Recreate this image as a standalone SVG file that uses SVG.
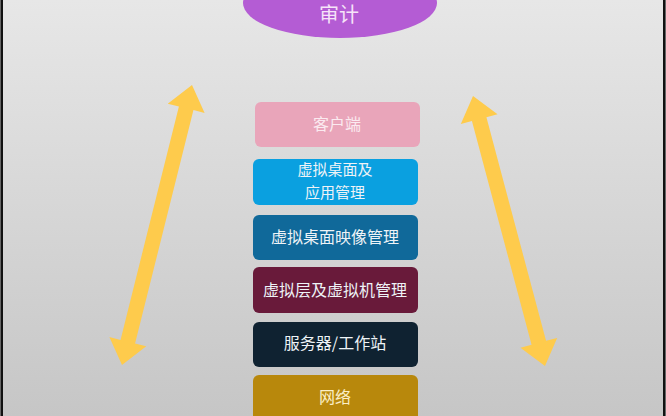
<svg xmlns="http://www.w3.org/2000/svg" width="666" height="416" viewBox="0 0 666 416">
<defs>
<linearGradient id="bg" x1="0" y1="0" x2="0" y2="1">
<stop offset="0" stop-color="#e7e7e7"/>
<stop offset="1" stop-color="#c6c6c6"/>
</linearGradient>
</defs>
<style>
.t{font-family:"Noto Sans CJK SC","Noto Sans",sans-serif;font-size:16px;text-anchor:middle;fill:#eef3f7}
.arrow{fill:#fecb4c}
.box{stroke:none}
</style>
<rect x="0" y="0" width="666" height="416" fill="url(#bg)"/>
<rect x="0" y="0" width="1" height="416" fill="#666"/>
<rect x="1" y="0" width="2" height="416" fill="#111"/>
<rect x="663" y="0" width="2" height="416" fill="#111"/>
<rect x="665" y="0" width="1" height="416" fill="#666"/>

<g id="connectors">
<polygon class="arrow" transform="translate(192,85) rotate(104.04)" points="0,0 24,19 24,7.5 264.6,7.5 264.6,19 288.6,0 264.6,-19 264.6,-7.5 24,-7.5 24,-19"/>
<polygon class="arrow" transform="translate(473,96) rotate(75.07)" points="0,0 24,19 24,7.5 255.4,7.5 255.4,19 279.4,0 255.4,-19 255.4,-7.5 24,-7.5 24,-19"/>
</g>

<g id="audit">
<ellipse cx="340" cy="3" rx="97" ry="35" fill="#b45cd4"/>
<text class="t" x="339" y="22" style="font-size:20px;fill:#f6e4f8">审计</text>
</g>
<g id="client">
<rect class="box" x="255" y="102" width="165" height="45" rx="6" fill="#e9a5ba"/>
<text class="t" x="337" y="130" style="fill:#fbeaf0">客户端</text>
</g>
<g id="vdi-app">
<rect class="box" x="253" y="159" width="165" height="46" rx="6" fill="#0aa0e0"/>
<text class="t" x="335" y="175" style="font-size:15px">虚拟桌面及</text>
<text class="t" x="335" y="198" style="font-size:15px">应用管理</text>
</g>
<g id="vdi-image">
<rect class="box" x="253" y="215" width="165" height="45" rx="6" fill="#10699a"/>
<text class="t" x="335" y="243">虚拟桌面映像管理</text>
</g>
<g id="hypervisor">
<rect class="box" x="253" y="267" width="165" height="46" rx="6" fill="#691a3a"/>
<text class="t" x="335" y="296">虚拟层及虚拟机管理</text>
</g>
<g id="server">
<rect class="box" x="253" y="322" width="165" height="45" rx="6" fill="#0f2231"/>
<text class="t" x="335" y="349">服务器/工作站</text>
</g>
<g id="network">
<rect class="box" x="253" y="375" width="165" height="50" rx="6" fill="#b8880c"/>
<text class="t" x="335" y="403" style="fill:#fbefc8">网络</text>
</g>
</svg>
